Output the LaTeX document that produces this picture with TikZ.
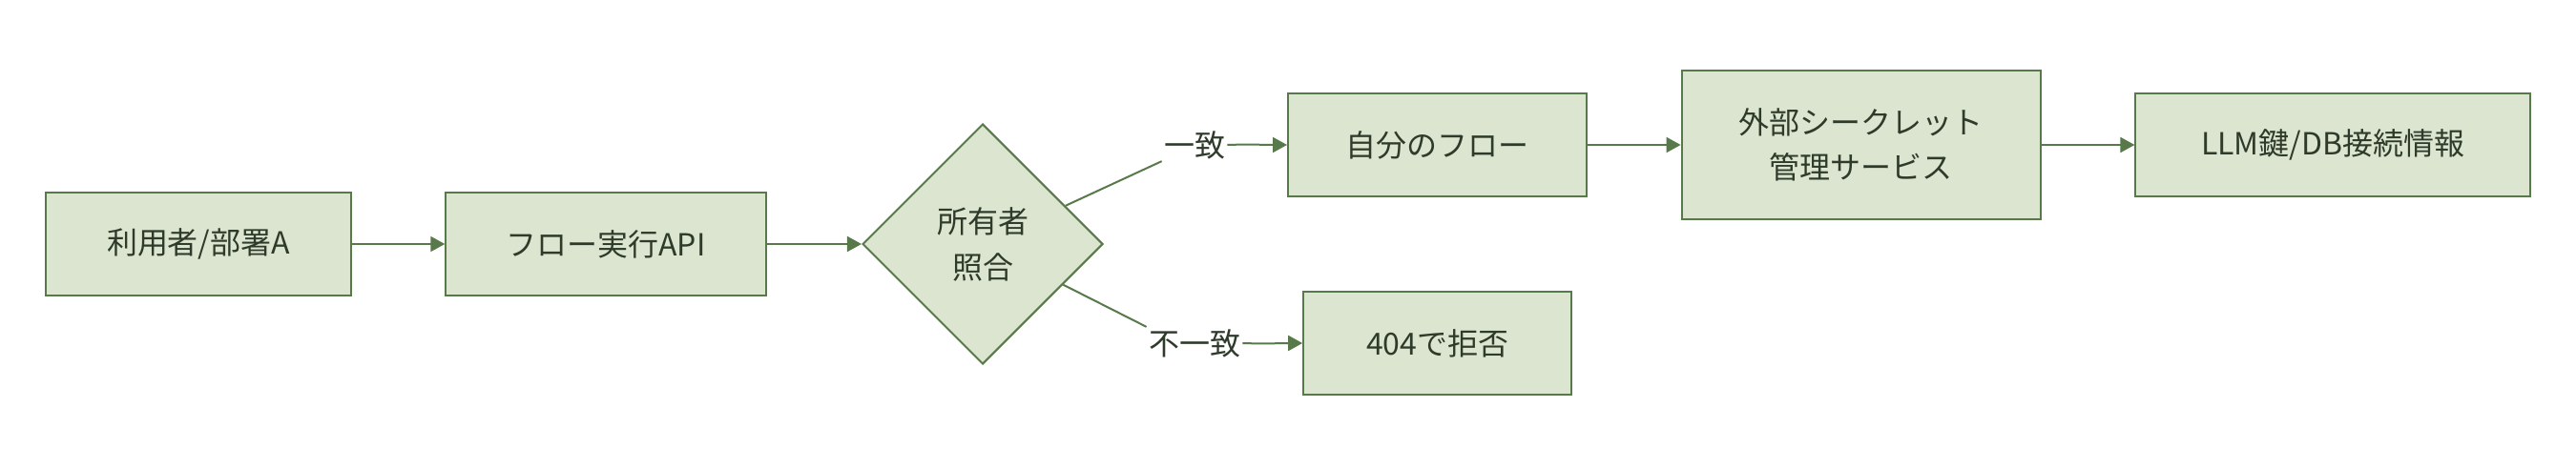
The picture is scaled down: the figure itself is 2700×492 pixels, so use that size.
\documentclass[tikz,border=0pt]{standalone}
\usepackage{fontspec}
\usetikzlibrary{shapes.geometric,arrows.meta}
\newfontfamily\jpfont{Noto Sans CJK JP}
\definecolor{boxfill}{HTML}{DCE5D0}
\definecolor{boxline}{HTML}{587A4B}
\definecolor{txt}{HTML}{2F3B2A}
\tikzset{
  box/.style={draw=boxline, fill=boxfill, line width=1pt, rectangle, inner sep=0pt, text=txt, align=center,
    minimum height=54pt, font={\jpfont\fontsize{16}{23.5}\selectfont}},
  decision/.style={draw=boxline, fill=boxfill, line width=1pt, diamond, aspect=1, inner sep=0pt, text=txt, align=center,
    minimum width=126pt, minimum height=126pt, font={\jpfont\fontsize{16}{24}\selectfont}},
  lbl/.style={inner sep=1pt, text=txt, font={\jpfont\fontsize{16}{20}\selectfont}},
  edge/.style={draw=boxline, line width=1pt},
  arrow/.style={edge, -{Triangle[length=7.5pt,width=8pt]}}
}
\begin{document}
\begin{tikzpicture}[x=0.5pt,y=-0.5pt]
\useasboundingbox (0,0) rectangle (2700,492);
\node[box, minimum width=160.3pt] (u) at (208,256) {利用者/部署A};
\node[box, minimum width=167.7pt] (api) at (635,256) {フロー実行API};
\node[decision] (chk) at (1030,256) {所有者\\照合};
\node[box, minimum width=156.3pt] (own) at (1506.3,152) {自分のフロー};
\node[box, minimum width=188.2pt, minimum height=78pt] (ext) at (1950.8,152) {外部シークレット\\管理サービス};
\node[box, minimum width=206.8pt] (llm) at (2445.2,152) {LLM鍵/DB接続情報};
\node[box, minimum width=140.5pt] (rej) at (1506.7,360) {404で拒否};
\node[lbl] (l1) at (1252,152) {一致};
\node[lbl] (l2) at (1252,360) {不一致};
\draw[arrow] (u) -- (api);
\draw[arrow] (api) -- (chk);
\draw[edge] (chk) -- (l1.south west);
\draw[arrow] (l1.east) to[out=2,in=180] (own.west);
\draw[edge] (chk) -- (l2.north west);
\draw[arrow] (l2.east) to[out=-2,in=180] (rej.west);
\draw[arrow] (own) -- (ext);
\draw[arrow] (ext) -- (llm);
\end{tikzpicture}
\end{document}
